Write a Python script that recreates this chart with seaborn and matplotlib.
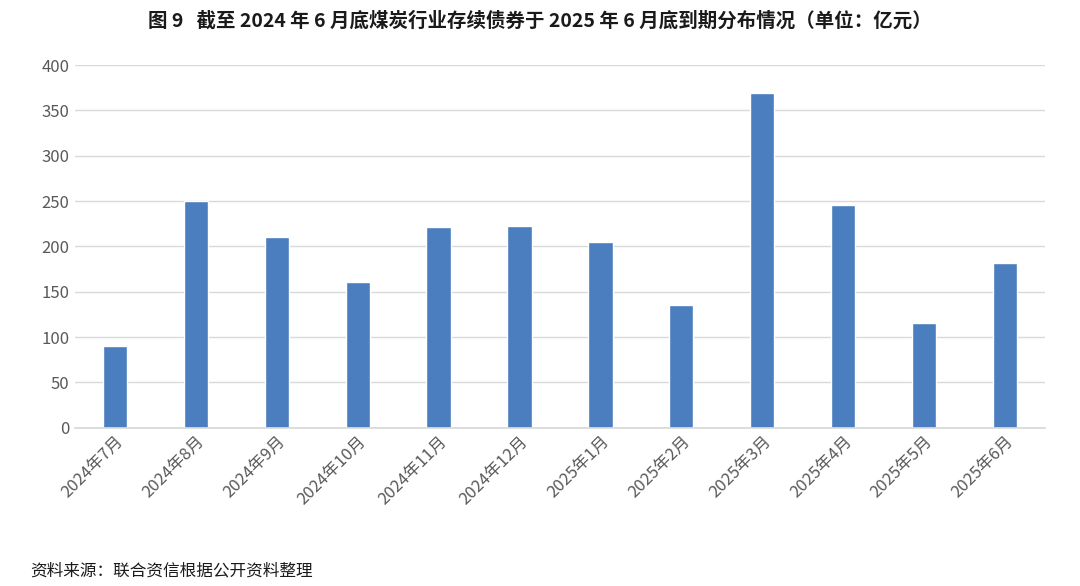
import matplotlib
matplotlib.use("Agg")
import matplotlib.pyplot as plt
import seaborn as sns
import pandas as pd

months = ["2024年7月","2024年8月","2024年9月","2024年10月","2024年11月","2024年12月",
          "2025年1月","2025年2月","2025年3月","2025年4月","2025年5月","2025年6月"]
values = [90, 250, 210, 161, 221, 222, 205, 135, 369, 246, 115, 182]
yticks = [0, 50, 100, 150, 200, 250, 300, 350, 400]

sns.set_theme(style="white")
plt.rcParams['font.family'] = ['Noto Sans CJK SC', 'DejaVu Sans']

df = pd.DataFrame({"month": months, "value": values})
fig = plt.figure(figsize=(10.8, 5.86), dpi=100)
ax = fig.add_axes([0.069, 0.27, 0.899, 0.619])
sns.barplot(data=df, x="month", y="value", color="#4a7ebf", width=0.3, ax=ax, saturation=1)
ax.set_ylim(0, 400)
ax.set_yticks(yticks)
ax.yaxis.grid(True, color="#d9d9d9", linewidth=1)
ax.set_axisbelow(True)
for s in ["top", "right", "left"]:
    ax.spines[s].set_visible(False)
ax.spines["bottom"].set_color("#d9d9d9")
ax.set_xlabel("")
ax.set_ylabel("")
ax.tick_params(axis="y", colors="#595959", labelsize=12, length=0)
ax.tick_params(axis="x", colors="#595959", labelsize=12, length=0)
plt.setp(ax.get_xticklabels(), rotation=45, ha="right", rotation_mode="anchor")
ax.set_xlim(-0.5, len(months) - 0.5)

fig.text(0.5, 0.965, "图 9   截至 2024 年 6 月底煤炭行业存续债券于 2025 年 6 月底到期分布情况（单位：亿元）",
         ha="center", va="center", fontsize=14, fontweight="bold", color="#1a1a1a")
fig.text(0.028, 0.025, "资料来源：联合资信根据公开资料整理", ha="left", va="center", fontsize=12, color="#1a1a1a")
fig.savefig("out.png", dpi=100)
